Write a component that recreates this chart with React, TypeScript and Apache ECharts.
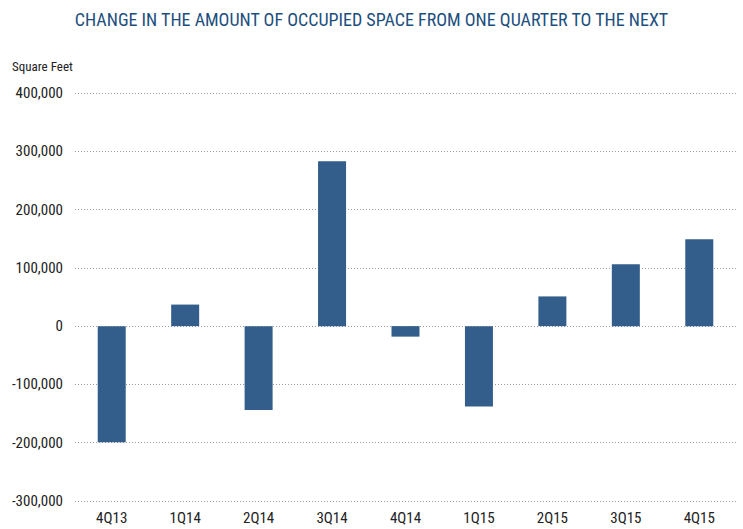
import React, { useEffect, useRef } from "react";
import * as echarts from "echarts";

const categories = ["4Q13", "1Q14", "2Q14", "3Q14", "4Q14", "1Q15", "2Q15", "3Q15", "4Q15"];
const values = [-199000, 37000, -144000, 283000, -18000, -138000, 51000, 106000, 149000];
const titleText = "CHANGE IN THE AMOUNT OF OCCUPIED SPACE FROM ONE QUARTER TO THE NEXT";
const unitLabel = "Square Feet";
const yMin = -300000;
const yMax = 400000;
const yStep = 100000;

const FONT = '"Liberation Sans Narrow", "Roboto Condensed", "Arial Narrow", Roboto, sans-serif';

export default function App() {
  const ref = useRef<HTMLDivElement>(null);
  useEffect(() => {
    if (!ref.current) return;
    const chart = echarts.init(ref.current, null, { renderer: "svg" });
    chart.setOption({
      animation: false,
      backgroundColor: "#ffffff",
      title: {
        text: titleText,
        left: "center",
        top: 5,
        textStyle: { color: "#1d4f7e", fontSize: 18, fontWeight: "normal", fontFamily: FONT },
      },
      graphic: [
        {
          type: "text",
          left: 12,
          top: 60,
          style: { text: unitLabel, fill: "#222", font: `13px ${FONT}` },
        },
      ],
      grid: { left: 75, right: 7, top: 93, bottom: 28, containLabel: false },
      xAxis: {
        type: "category",
        data: categories,
        axisLine: { show: false },
        axisTick: { show: false },
        axisLabel: { color: "#222", fontSize: 15, fontFamily: FONT, margin: 9 },
      },
      yAxis: {
        type: "value",
        min: yMin,
        max: yMax,
        interval: yStep,
        axisLine: { show: false },
        axisTick: { show: false },
        axisLabel: {
          color: "#222",
          fontSize: 15,
          fontFamily: FONT,
          margin: 12,
          formatter: (v: number) => v.toLocaleString("en-US"),
        },
        splitLine: { show: true, lineStyle: { color: "#9a9a9a", type: [1, 2], width: 1 } },
      },
      series: [
        {
          type: "bar",
          data: values,
          barWidth: 28,
          itemStyle: { color: "#335e8b" },
        },
      ],
    });
    return () => chart.dispose();
  }, []);
  return <div ref={ref} style={{ width: 743, height: 529, position: "absolute", left: 0, top: 0 }} />;
}
